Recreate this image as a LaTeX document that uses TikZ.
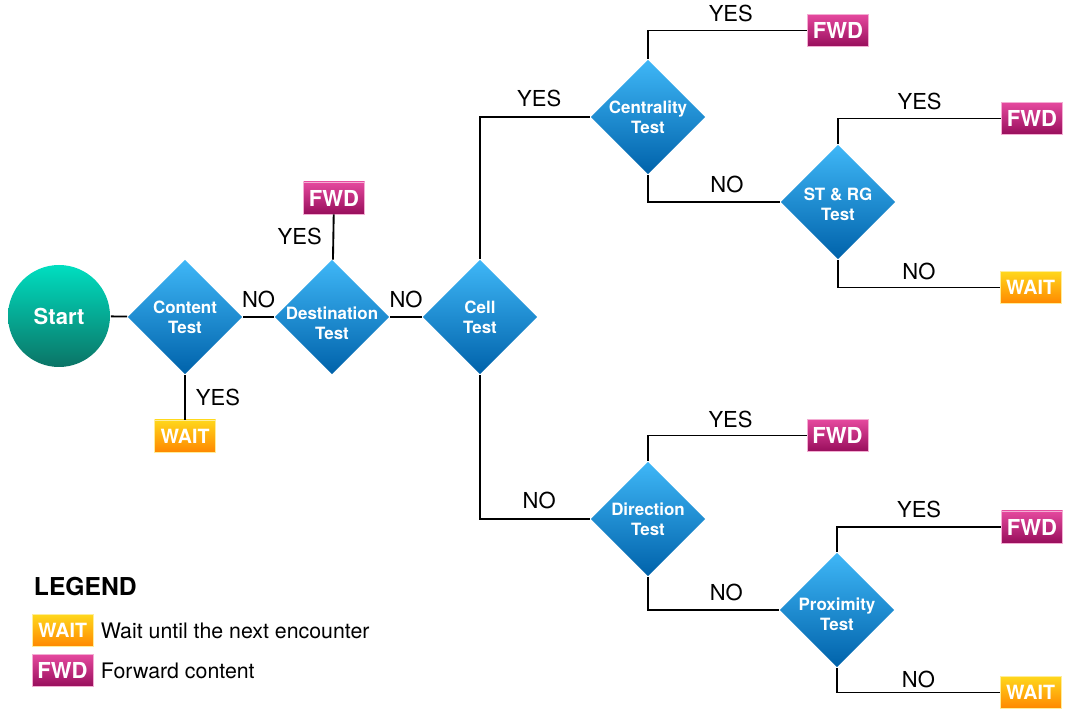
\documentclass[tikz,border=0pt]{standalone}
\usepackage{fontspec}
\setmainfont{TeX Gyre Heros}
\usepackage{xcolor}
\usepackage{tikz}
\usetikzlibrary{shapes.geometric,positioning}

\definecolor{testtop}{HTML}{3FB7F7}
\definecolor{testbot}{HTML}{0062AA}
\definecolor{starttop}{HTML}{00DEC0}
\definecolor{startbot}{HTML}{0B7466}
\definecolor{fwdtop}{HTML}{E5499E}
\definecolor{fwdbot}{HTML}{980E5C}
\definecolor{waittop}{HTML}{FFD71C}
\definecolor{waitbot}{HTML}{FF8800}

\begin{document}
\begin{tikzpicture}[
    x=0.75pt, y=-0.75pt,
    line width=1.4pt,
    start/.style={
        % The shape:
        circle, minimum size=76.5pt, inner sep=0pt,
        % The fill
        top color=starttop, bottom color=startbot,
        % The fonts
        text=white, font=\bfseries\fontsize{16.5}{18}\selectfont},
    test/.style={
        % The shape:
        diamond, minimum size=86.25pt, inner sep=0pt,
        % The fill
        top color=testtop, bottom color=testbot},
    testtext/.style={text=white, align=center,
        font=\bfseries\fontsize{12.7}{15}\selectfont},
    action/.style={
        rectangle, minimum width=45.75pt, minimum height=24pt, inner sep=0pt,
        line width=0.4pt, text=white},
    fwd/.style={action, top color=fwdtop, bottom color=fwdbot,
        draw=fwdtop!45!white, font=\bfseries\fontsize{16.5}{18}\selectfont},
    wait/.style={action, top color=waittop, bottom color=waitbot,
        draw=waittop!45!white, font=\bfseries\fontsize{14.7}{16}\selectfont},
    answer/.style={inner sep=0pt, font=\fontsize{16.5}{18}\selectfont},
    legendtext/.style={anchor=west, inner sep=0pt, font=\fontsize{16}{18}\selectfont}]
  \useasboundingbox (0,0) rectangle (1065,709);
  % 测试节点
  \node (start) [start] at (59,316) {Start};
  \node (content) [test,label={[testtext]center:Content\\Test}] at (185,317) {};
  \node (dest) [test,label={[testtext,yshift=-5pt]center:Destination\\Test}] at (332,317) {};
  \node (cell) [test,label={[testtext]center:Cell\\Test}] at (480,317) {};
  \node (cent) [test,label={[testtext]center:Centrality\\Test}] at (648,117) {};
  \node (strg) [test,label={[testtext,yshift=-2pt]center:ST \& RG\\Test}] at (838,202) {};
  \node (dir) [test,label={[testtext]center:Direction\\Test}] at (648,519) {};
  \node (prox) [test,label={[testtext,yshift=-3pt]center:Proximity\\Test}] at (837,610) {};
  % 结果节点
  \node (wait content) [wait] at (185,436) {WAIT};
  \node (fwd dest) [fwd] at (334,198) {FWD};
  \node (fwd cent) [fwd] at (838,30.5) {FWD};
  \node (fwd strg) [fwd] at (1032,118.5) {FWD};
  \node (wait strg) [wait] at (1030.5,287.5) {WAIT};
  \node (fwd dir) [fwd] at (837.5,435.5) {FWD};
  \node (fwd prox) [fwd] at (1032,527) {FWD};
  \node (wait prox) [wait] at (1030.5,692.5) {WAIT};
  % 连线
  \draw (start) -- (content);
  \draw (content) -- node[answer,above=6pt] {NO} (dest);
  \draw (content) -- node[answer,right=7.5pt] {YES} (wait content);
  \draw (dest) -- node[answer,left=8pt] {YES} (fwd dest);
  \draw (dest) -- node[answer,above=6pt] {NO} (cell);
  \draw (cell.north) |- node[answer,pos=0.77,above=7pt] {YES} (cent.west);
  \draw (cell.south) |- node[answer,pos=0.77,above=7pt] {NO} (dir.west);
  \draw (cent.north) |- node[answer,pos=0.76,above=6pt] {YES} (fwd cent.west);
  \draw (cent.south) |- node[answer,pos=0.8,above=6pt] {NO} (strg.west);
  \draw (strg.north) |- node[answer,pos=0.75,above=6pt] {YES} (fwd strg.west);
  \draw (strg.south) |- node[answer,pos=0.75,above=5pt] {NO} (wait strg.west);
  \draw (dir.north) |- node[answer,pos=0.76,above=5pt] {YES} (fwd dir.west);
  \draw (dir.south) |- node[answer,pos=0.8,above=6pt] {NO} (prox.west);
  \draw (prox.north) |- node[answer,pos=0.75,above=6pt] {YES} (fwd prox.west);
  \draw (prox.south) |- node[answer,pos=0.75,above=3pt] {NO} (wait prox.west);
  % 图例
  \node (legend) [anchor=west,inner sep=0pt,font=\bfseries\fontsize{18.5}{20}\selectfont] at (33,587) {LEGEND};
  \node (legend wait) [wait] at (62.5,630.5) {WAIT};
  \node (legend fwd) [fwd] at (62.5,670.5) {FWD};
  \node (legend wait text) [legendtext] at (100,631) {Wait until the next encounter};
  \node (legend fwd text) [legendtext] at (100,670.5) {Forward content};
\end{tikzpicture}
\end{document}
